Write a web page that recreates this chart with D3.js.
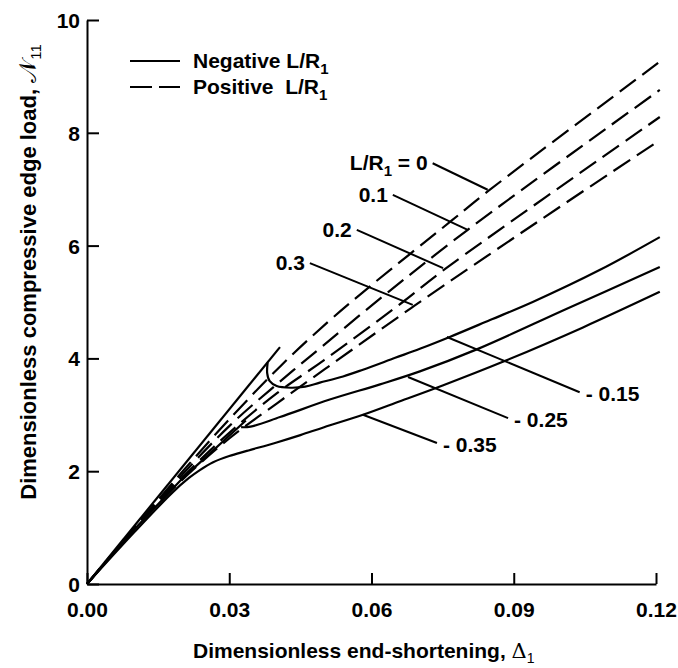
<!DOCTYPE html>
<html>
<head>
<meta charset="utf-8">
<script src="https://cdn.jsdelivr.net/npm/d3@7"></script>
<style>
  html, body { margin: 0; padding: 0; background: #fff; }
  svg { display: block; }
  text { font-family: "Liberation Sans", Arial, Helvetica, sans-serif; font-weight: bold; fill: #000; }
</style>
</head>
<body>
<svg id="chart" width="678" height="668"></svg>
<script>
// ---------- data ----------
const xTicks = [0, 0.03, 0.06, 0.09, 0.12];
const xTickLabels = ["0.00", "0.03", "0.06", "0.09", "0.12"];
const yTicks = [0, 2, 4, 6, 8, 10];
const yTickLabels = ["0", "2", "4", "6", "8", "10"];

// Positive L/R1 (dashed)
const posLR0  = [[0,0],[0.01,1.0],[0.02,1.98],[0.03,2.92],[0.041,3.88],[0.051,4.66],[0.06,5.3],[0.077,6.45],[0.0845,6.96],[0.1208,9.26]];
const posLR01 = [[0,0],[0.01,0.99],[0.02,1.93],[0.03,2.8],[0.04,3.54],[0.05,4.24],[0.0624,5.1],[0.0803,6.28],[0.1208,8.76]];
const posLR02 = [[0,0],[0.01,0.98],[0.02,1.88],[0.03,2.68],[0.04,3.38],[0.05,3.97],[0.0666,5.0],[0.0751,5.56],[0.1208,8.28]];
const posLR03 = [[0,0],[0.01,0.97],[0.02,1.84],[0.03,2.58],[0.04,3.2],[0.05,3.8],[0.069,4.93],[0.095,6.42],[0.1208,7.87]];

// Negative L/R1 (solid): pre-buckling branch and post-buckling branch
const negLR015Pre  = [[0,0],[0.0407,4.2]];
const negLR015Post = [[0.0381,3.93],[0.0380,3.74],[0.0385,3.60],[0.0400,3.51],[0.0430,3.48],[0.0460,3.50],[0.0491,3.57],[0.0540,3.68],[0.0582,3.80],[0.0650,4.01],[0.0702,4.17],[0.0765,4.38],[0.0850,4.68],[0.0940,5.00],[0.1082,5.57],[0.1208,6.15]];
const negLR025Pre  = [[0,0],[0.01,0.97],[0.02,1.86],[0.0335,2.9]];
const negLR025Post = [[0.0325,2.78],[0.0345,2.79],[0.0407,2.96],[0.0512,3.27],[0.0618,3.54],[0.0702,3.77],[0.0822,4.16],[0.1012,4.88],[0.1208,5.62]];
const negLR035     = [[0,0],[0.01,0.92],[0.018,1.62],[0.0215,1.88],[0.0238,2.02],[0.0266,2.16],[0.03,2.27],[0.0337,2.36],[0.04,2.51],[0.045,2.64],[0.05,2.78],[0.0582,3.0],[0.066,3.24],[0.075,3.52],[0.0877,3.94],[0.1046,4.55],[0.1208,5.18]];

// Curve labels: text, point on curve, leader end (data units)
const curveLabelText = ["L/R|1| = 0", "0.1", "0.2", "0.3", "- 0.15", "- 0.25", "- 0.35"];
const curveLabelAt   = [[0.0845,6.99],[0.0803,6.28],[0.0751,5.60],[0.0687,4.95],[0.0759,4.38],[0.0677,3.67],[0.0582,3.0]];
const curveLabelEnd  = [[0.0729,7.46],[0.0645,6.90],[0.0569,6.28],[0.0470,5.69],[0.1039,3.40],[0.0888,2.94],[0.0738,2.50]];
const curveLabelSide = ["left","left","left","left","right","right","right"];

const legendLabels = ["Negative L/R", "Positive  L/R"];

// ---------- layout ----------
const svg = d3.select("#chart");
const x = d3.scaleLinear().domain([0, 0.12]).range([87, 656]);
const y = d3.scaleLinear().domain([0, 10]).range([584, 20]);

const line = d3.line().x(d => x(d[0])).y(d => y(d[1])).curve(d3.curveCatmullRom.alpha(0.5));
const lineLin = d3.line().x(d => x(d[0])).y(d => y(d[1]));

// axes
const xAxis = d3.axisBottom(x).tickValues(xTicks).tickFormat((d,i) => xTickLabels[i])
  .tickSizeInner(-11).tickSizeOuter(0).tickPadding(18);
const yAxis = d3.axisLeft(y).tickValues(yTicks).tickFormat((d,i) => yTickLabels[i])
  .tickSizeInner(-12).tickSizeOuter(0).tickPadding(7);

const gx = svg.append("g").attr("transform", `translate(0,${y(0)})`).call(xAxis);
const gy = svg.append("g").attr("transform", `translate(${x(0)},0)`).call(yAxis);
[gx, gy].forEach(g => {
  g.selectAll("path, line").attr("stroke", "#000").attr("stroke-width", 2);
  g.selectAll("text").style("font-size", "21px").style("font-family", '"Liberation Sans", Arial, sans-serif').style("font-weight", "bold");
});
gx.selectAll("text").attr("dy", "0.71em");
gy.selectAll("text").attr("dy", "0.36em");

// curves
const dashed = [posLR0, posLR01, posLR02, posLR03];
svg.append("g").selectAll("path").data(dashed).join("path")
  .attr("d", line).attr("fill", "none").attr("stroke", "#000")
  .attr("stroke-width", 2.2).attr("stroke-dasharray", "20,8");

const solidLin = [negLR015Pre, negLR025Pre];
const solidCurve = [negLR015Post, negLR025Post, negLR035];
svg.append("g").selectAll("path").data(solidLin).join("path")
  .attr("d", lineLin).attr("fill", "none").attr("stroke", "#000").attr("stroke-width", 2.2);
svg.append("g").selectAll("path").data(solidCurve).join("path")
  .attr("d", line).attr("fill", "none").attr("stroke", "#000").attr("stroke-width", 2.2);

// curve labels with leaders
const lab = svg.append("g");
curveLabelText.forEach((t, i) => {
  const a = curveLabelAt[i], e = curveLabelEnd[i];
  lab.append("line")
    .attr("x1", x(a[0])).attr("y1", y(a[1]))
    .attr("x2", x(e[0])).attr("y2", y(e[1]))
    .attr("stroke", "#000").attr("stroke-width", 2);
  const left = curveLabelSide[i] === "left";
  const tx = x(e[0]) + (left ? -5 : 6);
  const ty = y(e[1]) + (left ? 7 : 9);
  const txt = lab.append("text").attr("x", tx).attr("y", ty)
    .attr("text-anchor", left ? "end" : "start")
    .style("font-size", "21px").style("white-space", "pre");
  const parts = t.split("|");
  if (parts.length === 1) {
    txt.text(t);
  } else {
    txt.append("tspan").text(parts[0]);
    txt.append("tspan").attr("dy", 6).style("font-size", "15px").text(parts[1]);
    txt.append("tspan").attr("dy", -6).text(parts[2]);
  }
});

// legend
const leg = svg.append("g");
const legY = [61, 87];
legendLabels.forEach((t, i) => {
  leg.append("line").attr("x1", 130).attr("x2", 180).attr("y1", legY[i]).attr("y2", legY[i])
    .attr("stroke", "#000").attr("stroke-width", 2)
    .attr("stroke-dasharray", i === 1 ? "22,7" : null);
  const tt = leg.append("text").attr("x", 193).attr("y", legY[i] + 7)
    .style("font-size", "21px").style("white-space", "pre");
  tt.append("tspan").text(t);
  tt.append("tspan").attr("dy", 6).style("font-size", "15px").text("1");
});

// axis titles
const xt = svg.append("text").attr("x", 193).attr("y", 658).style("font-size", "21px");
xt.append("tspan").text("Dimensionless end-shortening, ");
xt.append("tspan").style("font-family", '"DejaVu Serif", "Liberation Serif", serif').style("font-weight", "normal").text("Δ");
xt.append("tspan").attr("dy", 5).style("font-size", "14px").style("font-weight", "normal").text("1");

const yt = svg.append("text").attr("transform", "translate(36,272) rotate(-90)")
  .attr("text-anchor", "middle").style("font-size", "22px");
yt.append("tspan").text("Dimensionless compressive edge load, ");
yt.append("tspan").style("font-family", '"DejaVu Sans", "DejaVu Serif", serif').style("font-weight", "normal").style("font-size", "24px").text("𝒩");
yt.append("tspan").attr("dy", 5).style("font-size", "15px").style("font-weight", "normal").text("11");
</script>
</body>
</html>
